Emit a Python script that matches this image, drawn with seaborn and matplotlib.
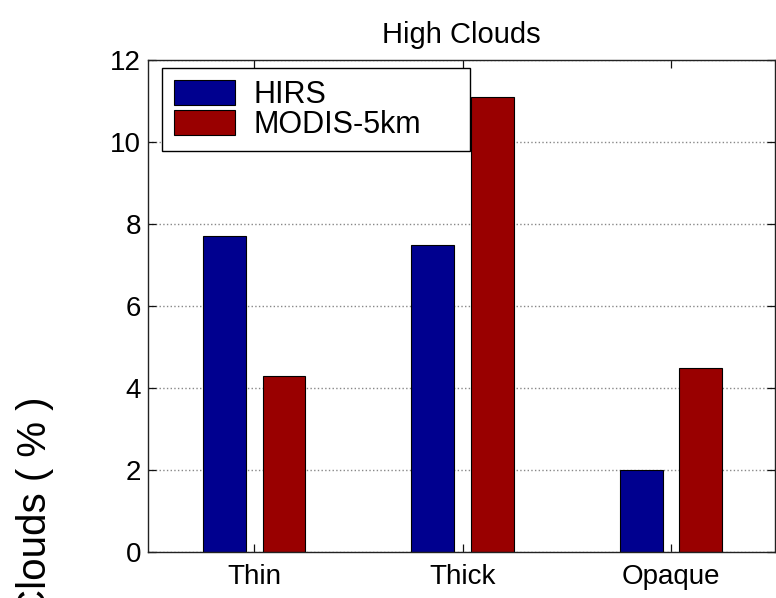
import matplotlib
matplotlib.use("Agg")
import matplotlib.pyplot as plt
import seaborn as sns
import pandas as pd

# Cloud categories and the two retrieval products
categories = ["Thin", "Thick", "Opaque"]
products = ["HIRS", "MODIS-5km"]
hirs_values = [7.7, 7.5, 2.0]
modis_values = [4.3, 11.1, 4.5]
y_ticks = [0, 2, 4, 6, 8, 10, 12]

bar_colors = ["#00008F", "#990000"]

sns.set_style("ticks")
plt.rcParams["font.family"] = ["Liberation Sans", "DejaVu Sans"]
plt.rcParams["text.color"] = "black"
plt.rcParams["axes.labelcolor"] = "black"
plt.rcParams["xtick.color"] = "black"
plt.rcParams["ytick.color"] = "black"

df = pd.DataFrame({
    "type": categories * 2,
    "product": [products[0]] * 3 + [products[1]] * 3,
    "value": hirs_values + modis_values,
})

fig = plt.figure(figsize=(7.76, 5.98), dpi=100)
ax = fig.add_axes([148 / 776, 1 - 552 / 598, 627 / 776, 492 / 598])

sns.barplot(
    data=df, x="type", y="value", hue="product", order=categories,
    hue_order=products, palette=bar_colors, width=0.572, gap=0.28,
    edgecolor="black", linewidth=0.8, saturation=1, errorbar=None, ax=ax,
)

ax.set_xlim(-0.51, 2.5)
ax.set_ylim(0, 12)
ax.set_yticks(y_ticks)
ax.set_yticklabels([str(v) for v in y_ticks])
ax.set_xlabel("")
ax.set_ylabel("Clouds ( % )", fontsize=29, va="center")
ax.yaxis.set_label_coords(-0.18, 0.09)
ax.set_title("High Clouds", fontsize=21, pad=12)

# Boxed axes with inward ticks on all sides, dotted horizontal grid
for side in ["top", "right", "bottom", "left"]:
    ax.spines[side].set_visible(True)
    ax.spines[side].set_color("#222222")
    ax.spines[side].set_linewidth(1.0)
ax.tick_params(axis="both", direction="in", length=6, width=0.9,
               top=True, right=True, color="#111111")
ax.tick_params(axis="x", labelsize=20, pad=9)
ax.tick_params(axis="y", labelsize=20, pad=5)
ax.yaxis.grid(True, linestyle=":", color="#888888", linewidth=1.0)
ax.set_axisbelow(True)

handles, labels = ax.get_legend_handles_labels()
leg = ax.legend(
    handles, labels, loc="upper left",
    bbox_to_anchor=(14 / 627, (552 - 153) / 492, 308 / 627, 85 / 492),
    mode="expand", borderaxespad=0, fontsize=22, frameon=True,
    fancybox=False, framealpha=1, edgecolor="black",
    handlelength=2.0, handleheight=0.88, handletextpad=0.6,
    labelspacing=0.0, borderpad=0.38,
)
leg.get_frame().set_linewidth(1.0)

fig.savefig("out.png", dpi=100)
